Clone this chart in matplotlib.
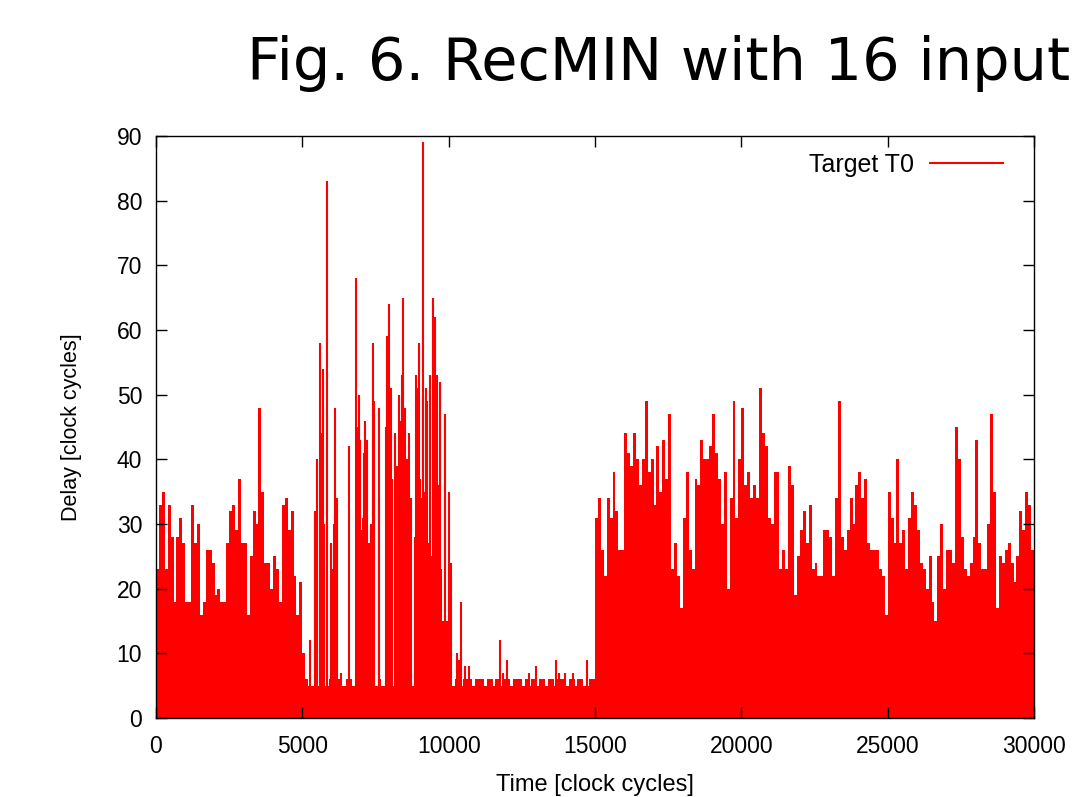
import numpy as np
import matplotlib
matplotlib.use("Agg")
import matplotlib.pyplot as plt

# Delay envelope, one value per 100 clock cycles
bin_width = 100

# 0 - 5100
seg_busy1 = [23, 33, 35, 23, 33, 28, 18, 28, 31, 27,
             18, 18, 33, 27, 30, 16, 18, 26, 26, 24,
             19, 20, 18, 18, 27, 32, 33, 29, 37, 27,
             27, 16, 25, 32, 30, 48, 35, 24, 24, 20,
             25, 23, 18, 33, 34, 29, 32, 22, 16, 21,
             10]

# 5100 - 15000 (low level between the spikes)
seg_quiet = [6, 5, 5, 6, 5, 6, 5, 5, 6, 5,
             5, 6, 5, 5, 6, 6, 5, 5, 6, 5,
             5, 5, 6, 5, 5, 6, 5, 5, 5, 6,
             5, 5, 6, 5, 5, 6, 5, 5, 6, 5,
             5, 6, 5, 5, 6, 5, 6, 5, 5, 6,
             5, 6, 6, 5, 6, 6, 6, 5, 6, 6,
             6, 5, 6, 6, 5, 6, 6, 5, 6, 6,
             5, 6, 6, 6, 5, 6, 5, 6, 6, 5,
             6, 6, 5, 6, 6, 5, 6, 6, 6, 5,
             6, 6, 5, 6, 6, 5, 5, 6, 6]

# 15000 - 30000
seg_busy2 = [31, 34, 26, 22, 34, 31, 38, 32, 26, 26,
             44, 41, 39, 44, 40, 36, 40, 49, 38, 40,
             33, 42, 35, 43, 37, 47, 23, 27, 22, 17,
             31, 38, 26, 23, 37, 36, 43,
             40, 40, 42, 47, 41, 37, 30, 38, 20, 34,
             49, 31, 40, 48, 36, 38, 34, 36, 34, 51,
             44, 42, 31, 30, 38, 38, 23, 26, 23, 39,
             36, 19, 25, 29, 32, 27, 33, 23,
             24, 22, 22, 29, 29, 28, 22, 34, 49, 28,
             26, 29, 34, 30, 36, 38, 34, 37, 27, 26,
             26, 26, 23, 22, 16, 35, 31, 27, 40, 27,
             29, 23, 31, 35, 33, 29, 24, 23,
             20, 25, 18, 15, 25, 30, 20, 26, 26, 24,
             45, 40, 28, 23, 22, 24, 28, 43, 27, 23,
             23, 30, 47, 35, 17, 25, 24, 26, 27, 24,
             21, 25, 32, 29, 35, 33, 26]

# thin spikes
spike_time = [5262, 5421, 5512, 5604, 5650, 5695, 5741, 5832, 5991, 6037,
              6082, 6128, 6173, 6310, 6606, 6834, 6880, 6925, 6971, 7017,
              7062, 7108, 7154, 7199, 7290, 7336, 7403, 7449, 7608, 7631,
              7859, 7905, 7973, 8019, 8064, 8155, 8201, 8247, 8315, 8361,
              8406, 8451, 8497, 8588, 8656, 8702, 8839, 8884, 8930, 8975,
              9021, 9066, 9112, 9135, 9180, 9226, 9272, 9317, 9363, 9408,
              9454, 9499, 9545, 9590, 9636, 9659, 9704, 9750, 9795, 9886,
              9931, 9977, 10023, 10068, 10296, 10342, 10387, 10433, 10570, 10706,
              11754, 11868, 12004, 12757, 12973, 13668, 13759, 13987, 14238, 14739]
spike_delay = [12, 32, 40, 58, 44, 54, 30, 83, 27, 23,
               30, 48, 34, 7, 42, 68, 45, 50, 43, 29,
               31, 41, 46, 43, 27, 30, 58, 49, 48, 34,
               45, 59, 64, 51, 37, 44, 39, 39, 50, 46,
               53, 65, 48, 40, 44, 34, 28, 53, 51, 58,
               37, 34, 50, 89, 35, 51, 49, 27, 53, 25,
               65, 58, 62, 53, 33, 36, 52, 23, 15, 47,
               15, 11, 35, 24, 10, 9, 8, 18, 8, 8,
               12, 7, 9, 7, 8, 9, 7, 7, 7, 9]

delay = seg_busy1 + seg_quiet + seg_busy2
edges = np.arange(0, bin_width * len(delay) + 1, bin_width)

plt.rcParams['font.family'] = ['Liberation Sans', 'DejaVu Sans']

fig = plt.figure(figsize=(10.79, 7.97), dpi=100)
ax = fig.add_axes([156 / 1079, 1 - 718 / 797, 878 / 1079, 582 / 797])

ax.stairs(delay, edges, fill=True, color='red', lw=0)
ax.vlines(spike_time, 0, spike_delay, color='red', lw=1.5, label='Target T0')

ax.set_xlim(0, 30000)
ax.set_ylim(0, 90)
ax.set_xticks(range(0, 30001, 5000))
ax.set_yticks(range(0, 91, 10))
ax.tick_params(direction='in', length=8, width=1, top=True, right=True,
               labelsize=16.5, pad=12)
ax.tick_params(axis='y', pad=10)
for s in ax.spines.values():
    s.set_linewidth(1)

ax.set_xlabel('Time [clock cycles]', fontsize=17, labelpad=12)
ax.set_ylabel('Delay [clock cycles]', fontsize=15.5, labelpad=25)

ax.legend(loc='upper right', frameon=False, markerfirst=False, handlelength=3.0,
          handletextpad=0.6, fontsize=18, borderaxespad=0.4,
          bbox_to_anchor=(1 - 10 / 878, 1 + 3 / 582))

fig.text(247 / 1079, 1 - 64 / 797, 'Fig. 6. RecMIN with 16 input',
         fontsize=42.5, family='DejaVu Sans', ha='left', va='center')

fig.savefig('out.png', dpi=100)
